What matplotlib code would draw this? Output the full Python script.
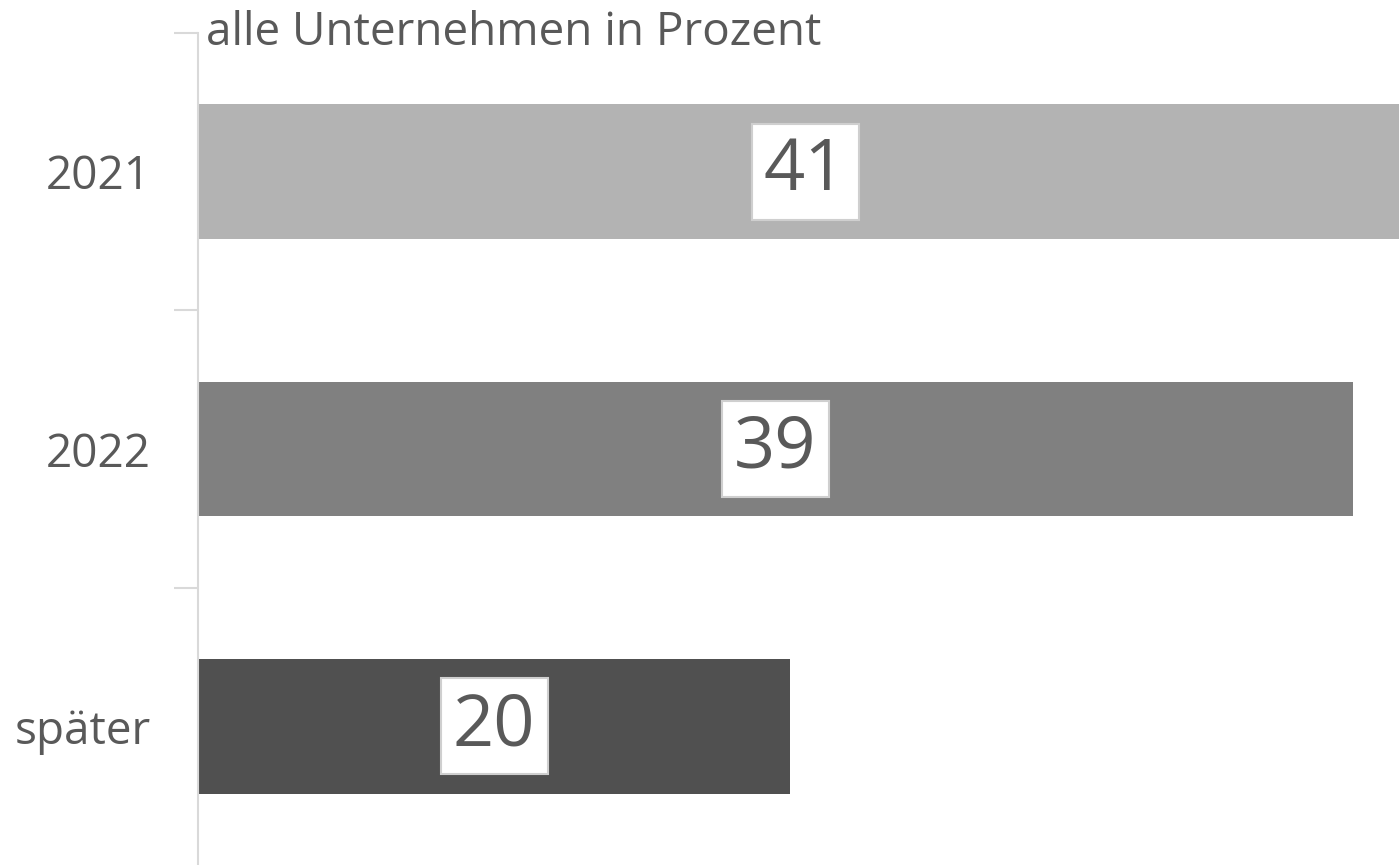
import matplotlib
matplotlib.use("Agg")
import matplotlib.pyplot as plt

categories = ["2021", "2022", "später"]
values = [41, 39, 20]
colors = ["#b3b3b3", "#808080", "#505050"]
title = "alle Unternehmen in Prozent"

plt.rcParams['font.family'] = ['Open Sans', 'DejaVu Sans']
text_color = "#595959"

fig = plt.figure(figsize=(13.99, 8.65), dpi=100)
ax = fig.add_axes([198/1399, 0.0, 1 - 198/1399, 1 - 33/865])

y = list(range(len(categories)))
ax.barh(y, values, height=0.486, color=colors)
ax.set_ylim(len(categories) - 0.5, -0.5)
ax.set_xlim(0, 40.55)

for yi, v in zip(y, values):
    ax.text(v / 2, yi, str(v), ha="center", va="center", fontsize=52,
            color=text_color,
            bbox=dict(boxstyle="square,pad=0.17", facecolor="white",
                      edgecolor="#cfcfcf", linewidth=1.5))

ax.set_yticks(y)
ax.set_yticklabels(categories, fontsize=33, color=text_color)
ax.set_yticks([-0.5, 0.5, 1.5], minor=True)
ax.tick_params(axis="y", which="major", length=0, pad=34)
ax.tick_params(axis="y", which="minor", length=17, width=1.5, color="#d9d9d9")
ax.set_xticks([])
for s in ["top", "right", "bottom"]:
    ax.spines[s].set_visible(False)
ax.spines["left"].set_color("#d9d9d9")
ax.spines["left"].set_linewidth(1.5)

fig.text(206/1399, 1 - 33/865, title, ha="left", va="center", fontsize=33,
         color=text_color)

fig.savefig("out.png", dpi=100)
